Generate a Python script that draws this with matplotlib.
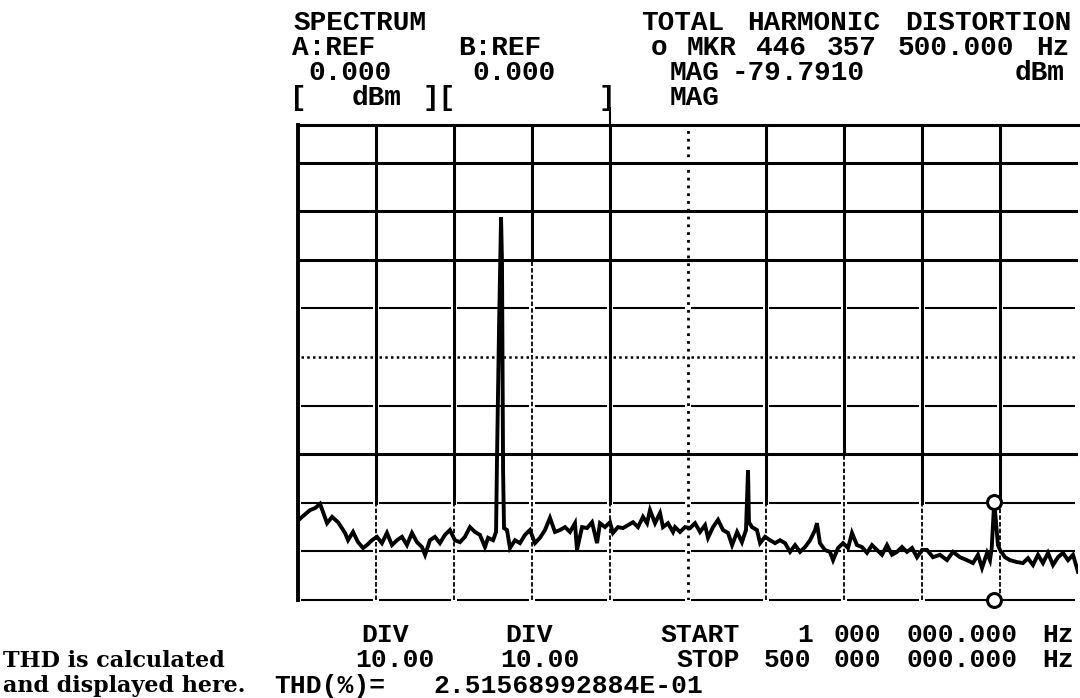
import re
import matplotlib
matplotlib.use("Agg")
import matplotlib.pyplot as plt

# spectrum trace
freq_mhz = [
    1.6, 3.6, 8.7, 11.9, 15.1, 17.0, 19.6, 22.8, 26.6, 31.1,
    33.0, 36.2, 39.4, 42.6, 45.1, 48.3, 51.5, 54.7, 57.9, 61.1,
    64.3, 67.5, 70.7, 73.9, 77.1, 80.3, 82.3, 85.4, 88.6, 91.8,
    95.0, 98.2, 101.4, 104.6, 107.8, 111.0, 114.2, 117.4, 120.6, 122.6,
    125.8, 127.7, 128.3, 129.6, 130.9, 131.5, 132.2, 132.8, 134.7, 136.6,
    139.8, 143.0, 146.2, 149.4, 152.6, 155.8, 159.0, 162.2, 165.4, 168.6,
    171.8, 175.0, 178.2, 179.5, 182.7, 185.9, 189.1, 192.3, 194.2, 197.4,
    200.6, 202.5, 205.7, 208.9, 212.1, 215.3, 218.5, 221.7, 224.3, 226.2,
    229.4, 232.6, 234.5, 237.7, 240.9, 242.2, 245.4, 248.6, 251.8, 255.0,
    258.2, 261.4, 263.3, 266.5, 269.7, 272.9, 276.1, 278.7, 281.9, 285.0,
    287.6, 288.9, 289.5, 291.4, 294.6, 296.6, 299.8, 303.0, 306.2, 309.4,
    312.6, 315.8, 319.0, 322.2, 325.4, 328.6, 331.8, 333.0, 334.9, 338.1,
    341.3, 343.3, 346.5, 349.7, 352.9, 355.4, 358.6, 361.8, 365.0, 368.2,
    371.4, 374.6, 377.8, 381.0, 384.2, 387.4, 390.6, 393.8, 397.0, 400.2,
    403.4, 407.2, 411.7, 416.2, 420.0, 424.5, 429.0, 432.8, 436.0, 438.6,
    441.8, 443.7, 444.8, 446.4, 448.8, 450.1, 453.3, 456.5, 461.0, 464.8,
    468.0, 471.2, 474.4, 477.6, 480.8, 484.0, 487.2, 490.4, 493.6, 496.8,
    500.0,
]
level_dbm = [
    -83.5, -82.9, -81.5, -81.1, -80.2, -81.9, -84.2, -82.9, -84.0, -86.2,
    -87.7, -86.0, -88.1, -89.3, -88.7, -87.7, -87.0, -88.3, -86.2, -88.7,
    -87.7, -87.0, -88.7, -86.2, -88.1, -89.1, -90.7, -87.7, -87.0, -88.3,
    -86.6, -85.6, -87.7, -88.1, -87.0, -85.0, -86.0, -86.6, -89.1, -87.2,
    -87.7, -86.0, -71.2, -44.4, -21.2, -30.5, -73.3, -85.2, -85.6, -89.3,
    -87.7, -88.3, -86.6, -85.6, -88.3, -87.2, -85.6, -83.1, -86.0, -85.6,
    -85.0, -86.0, -84.2, -89.7, -85.0, -85.2, -84.0, -88.3, -84.2, -85.0,
    -84.0, -86.2, -85.0, -85.2, -84.6, -84.0, -85.0, -82.9, -84.2, -81.5,
    -84.2, -82.1, -85.0, -84.2, -86.0, -85.0, -86.0, -85.0, -85.2, -84.2,
    -86.0, -84.6, -87.2, -85.0, -83.5, -85.6, -86.2, -88.7, -86.0, -88.1,
    -85.6, -73.3, -84.0, -85.0, -85.6, -88.3, -87.0, -87.7, -88.3, -87.7,
    -88.3, -90.1, -88.7, -90.1, -89.1, -87.7, -85.6, -84.2, -88.3, -89.7,
    -90.1, -91.8, -89.3, -88.3, -89.3, -86.2, -88.7, -89.1, -90.3, -88.7,
    -89.7, -90.7, -88.7, -90.7, -90.1, -89.1, -90.1, -89.3, -91.2, -89.7,
    -89.7, -91.2, -90.7, -91.8, -90.1, -91.2, -91.8, -92.4, -90.7, -93.4,
    -90.3, -91.8, -89.3, -79.8, -88.7, -89.7, -91.2, -91.8, -92.2, -92.4,
    -91.4, -92.8, -90.7, -92.4, -90.3, -92.8, -91.2, -90.3, -91.8, -90.7,
    -94.2,
]

start_mhz = 1.0
stop_mhz = 500.0
n_div = 10
marker_mhz = 446.3575
marker_dbm = -79.791
thd_pct = "2.51568992884E-01"

# grid rows in dBm and the way the plotter drew them
solid_rows = [-10, -20, -30, -70]
broken_rows = [-40, -60, -80, -90, -100]
dotted_rows = [-50]
# vertical division lines: level where the solid part stops (None = not drawn here)
vline_solid_to = [None, -80, -80, -30, -80, None, -80, -70, -80, -80, None]

W, H = 1080, 698
fig = plt.figure(figsize=(W / 100, H / 100), dpi=100)
ax = fig.add_axes([298 / W, 98 / H, 780 / W, 475 / H])
ax.set_xlim(start_mhz, stop_mhz)
ax.set_ylim(-100, -2.26)
ax.set_xticks([])
ax.set_yticks([])
for side in ["right", "bottom"]:
    ax.spines[side].set_visible(False)
ax.spines["left"].set_linewidth(2.8)
ax.spines["top"].set_linewidth(2.2)

step = (stop_mhz - start_mhz) / n_div
xs = [start_mhz + k * step for k in range(n_div + 1)]
gap = step * 0.035

for lvl in solid_rows:
    ax.axhline(lvl, color="black", lw=2.2)
for lvl in broken_rows:
    for k in range(n_div):
        ax.plot([xs[k] + gap, xs[k + 1] - gap], [lvl, lvl], color="black",
                lw=1.5, clip_on=False, solid_capstyle="butt")
for lvl in dotted_rows:
    for k in range(n_div):
        ax.plot([xs[k] + gap, xs[k + 1] - gap], [lvl, lvl], color="black",
                lw=1.8, ls=(0, (1.0, 1.3)))

for k, stop_lvl in enumerate(vline_solid_to):
    if stop_lvl is None:
        continue
    ax.plot([xs[k], xs[k]], [stop_lvl, 0], color="black", lw=2.2)
    ax.plot([xs[k], xs[k]], [-100, stop_lvl], color="black", lw=1.3,
            ls=(0, (2.5, 1.2)))
# stem of the "]" bracket above the grid
ax.plot([xs[4], xs[4]], [-2.26, 1.3], color="black", lw=1.5, clip_on=False)
# centre line is dotted all the way
ax.plot([xs[5], xs[5]], [-100, 0], color="black", lw=2.0, ls=(0, (1, 1.8)))

ax.plot(freq_mhz, level_dbm, color="black", lw=2.8, solid_joinstyle="miter")
ax.plot([marker_mhz], [marker_dbm], "o", ms=10, mfc="white", mec="black", mew=2.2, zorder=5)
ax.plot([marker_mhz], [-100], "o", ms=10, mfc="white", mec="black", mew=2.2,
        zorder=5, clip_on=False)

mono = dict(family=["Liberation Mono", "DejaVu Sans Mono"], size=20,
            weight="bold", color="black")
mono_ft = dict(mono, size=19)
serif = dict(family=["DejaVu Serif"], size=16, weight="bold", color="black")


def put_line(x0, y, line, pitch=17.5, **kw):
    # the plotter used a fixed character pitch: place every word on its cells
    for m in re.finditer(r"\S+", line):
        xc = x0 + (m.start() + len(m.group()) / 2) * pitch
        fig.text(xc / W, 1 - y / H, m.group(), ha="center", va="baseline", **kw)


def put_right(x1, y, line, pitch=17.5, **kw):
    put_line(x1 - len(line) * pitch, y, line, pitch, **kw)


# header
put_line(290, 30, "SPECTRUM", **mono)
put_right(1076, 30, "TOTAL HARMONIC DISTORTION", **mono)
put_line(290, 55, "A:REF", **mono)
put_line(456, 55, "B:REF", **mono)
put_right(1070, 55, "o MKR 446 357 500.000 Hz", **mono)
put_line(306, 80, "0.000", **mono)
put_line(470, 80, "0.000", **mono)
put_line(668, 80, "MAG", **mono)
put_line(728, 80, f"{marker_dbm:.4f}", **mono)
put_right(1066, 80, "dBm", **mono)
put_line(290, 105, "[", **mono)
put_line(350, 105, "dBm", **mono)
put_line(422, 105, "][", **mono)
put_line(598, 105, "]", **mono)
put_line(668, 105, "MAG", **mono)

# footer
put_line(360, 642, "DIV", pitch=17, **mono_ft)
put_line(504, 642, "DIV", pitch=17, **mono_ft)
put_right(1076, 642, "START   1 000 000.000 Hz", **mono_ft)
put_line(352, 667, "10.00", pitch=17, **mono_ft)
put_line(497, 667, "10.00", pitch=17, **mono_ft)
put_right(1076, 667, "STOP 500 000 000.000 Hz", **mono_ft)
put_line(270, 693, "THD(%)=", pitch=17, **mono_ft)
put_line(428, 693, thd_pct, pitch=16.5, **mono_ft)

fig.text(3 / W, 1 - 667 / H, "THD is calculated", ha="left", va="baseline", **serif)
fig.text(3 / W, 1 - 692 / H, "and displayed here.", ha="left", va="baseline", **serif)

fig.savefig("out.png", dpi=100, facecolor="white")
